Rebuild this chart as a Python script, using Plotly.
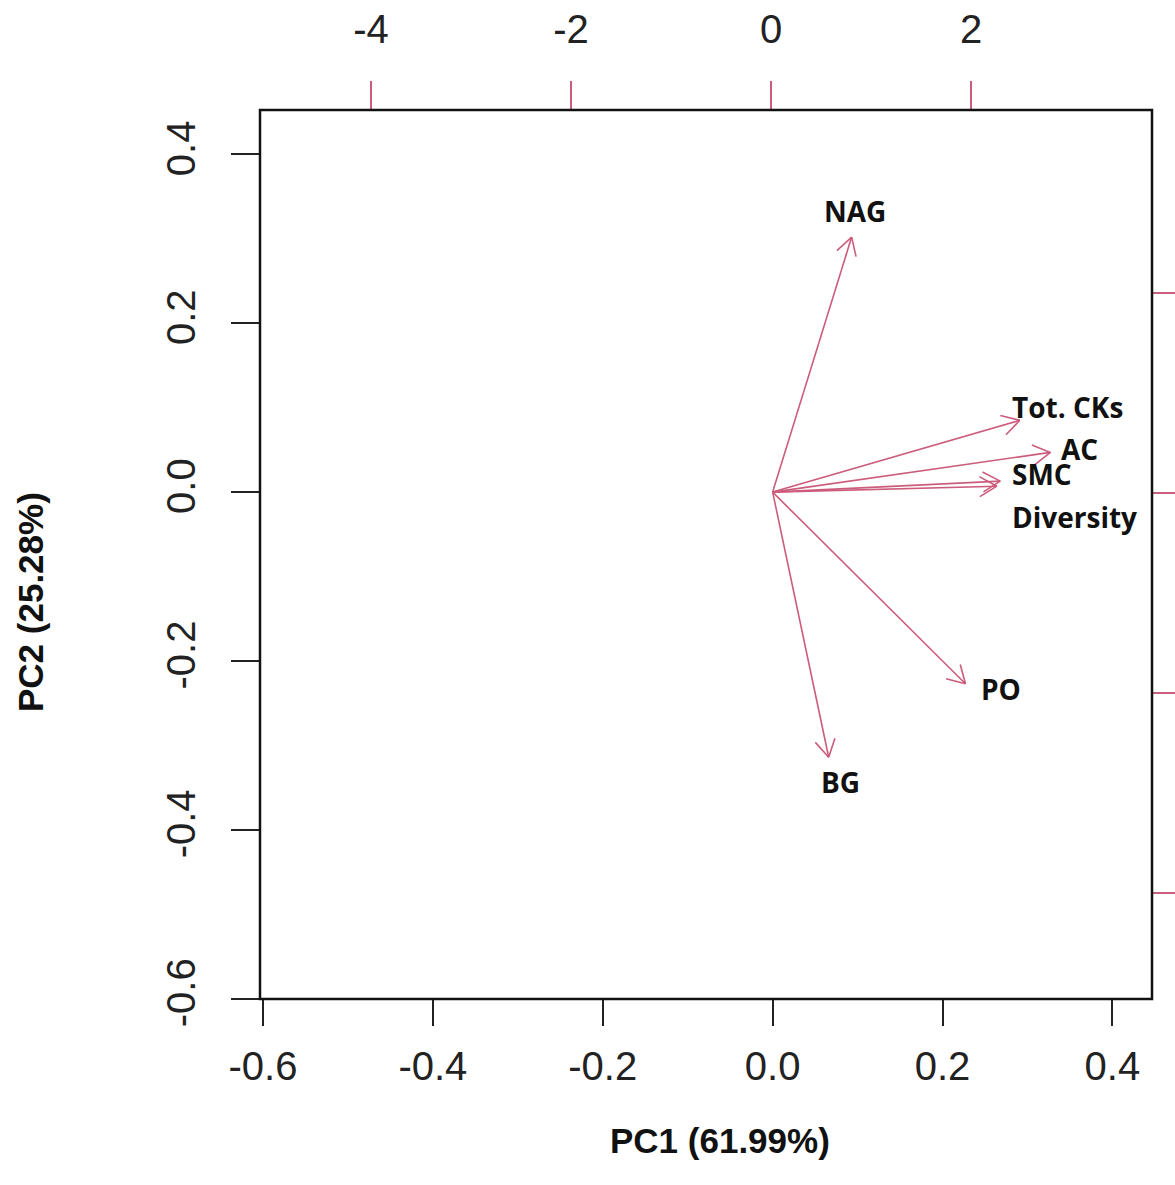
import math
import plotly.graph_objects as go

# ---- data (PCA loadings) ----
variables = ["NAG", "Tot. CKs", "AC", "SMC", "Diversity", "PO", "BG"]
pc1 = [0.093, 0.291, 0.327, 0.268, 0.264, 0.227, 0.066]
pc2 = [0.302, 0.085, 0.047, 0.013, 0.007, -0.227, -0.314]

# label placement (data units) and anchors
label_x = [0.097, 0.280, 0.337, 0.280, 0.280, 0.243, 0.080]
label_y = [0.333, 0.101, 0.051, 0.022, -0.030, -0.233, -0.343]
label_anchor = ["center", "left", "left", "left", "left", "left", "center"]

x_ticks = [-0.6, -0.4, -0.2, 0.0, 0.2, 0.4]
y_ticks = [-0.6, -0.4, -0.2, 0.0, 0.2, 0.4]
score_ticks = [-4, -2, 0, 2]

x_title = "PC1 (61.99%)"
y_title = "PC2 (25.28%)"

# ---- layout geometry ----
W, H = 1175, 1185
ML, MR, MT, MB = 260, 23, 110, 186
PW, PH = W - ML - MR, H - MT - MB
xr = [-0.6035, 0.4466]
yr = [-0.6003, 0.4525]
x2r = [-5.11, 3.81]
y2r = [-5.06, 3.83]

ARROW = "#CC5C7C"
TICKFONT = dict(family="Liberation Sans Narrow, Arial Narrow, Liberation Sans", size=40, color="#222")

sx = PW / (xr[1] - xr[0])
sy = PH / (yr[1] - yr[0])

fig = go.Figure()

head_len = 20.0
ang = math.radians(30)
for name, vx, vy in zip(variables, pc1, pc2):
    xs = [0, vx]
    ys = [0, vy]
    dx, dy = vx * sx, vy * sy
    L = math.hypot(dx, dy)
    ux, uy = dx / L, dy / L
    hx, hy = [], []
    for s in (1, -1):
        c, sn = math.cos(s * ang), math.sin(s * ang)
        bx = -(ux * c - uy * sn) * head_len
        by = -(ux * sn + uy * c) * head_len
        hx += [vx + bx / sx, vx, None]
        hy += [vy + by / sy, vy, None]
    fig.add_trace(go.Scatter(x=xs + [None] + hx, y=ys + [None] + hy, mode="lines",
                             line=dict(color=ARROW, width=1.6), hoverinfo="skip",
                             showlegend=False))

# invisible trace for secondary axes
fig.add_trace(go.Scatter(x=[0], y=[0], xaxis="x2", yaxis="y2", mode="markers",
                         marker=dict(opacity=0), showlegend=False, hoverinfo="skip"))

for name, lx, ly, anc in zip(variables, label_x, label_y, label_anchor):
    fig.add_annotation(x=lx, y=ly, text="<b>" + name + "</b>", showarrow=False,
                       xanchor=anc, yanchor="middle",
                       font=dict(family="Open Sans", size=28, color="#111"))

fig.add_annotation(xref="paper", yref="paper", x=(720 - ML) / PW, y=(H - MB - 1140) / PH,
                   text="<b>" + x_title + "</b>", showarrow=False, xanchor="center", yanchor="middle",
                   font=dict(family="Liberation Sans Narrow, Arial Narrow, Liberation Sans", size=35, color="#111"))
fig.add_annotation(xref="paper", yref="paper", x=(30 - ML) / PW, y=(H - MB - 602) / PH,
                   text="<b>" + y_title + "</b>", showarrow=False, xanchor="center", yanchor="middle",
                   textangle=-90,
                   font=dict(family="Liberation Sans Narrow, Arial Narrow, Liberation Sans", size=35, color="#111"))

fig.add_shape(type="rect", xref="paper", yref="paper", x0=0, x1=1, y0=0, y1=1,
              line=dict(color="#111", width=2.5))

fig.update_layout(
    width=W, height=H, margin=dict(l=ML, r=MR, t=MT, b=MB, pad=0, autoexpand=False),
    paper_bgcolor="white", plot_bgcolor="white", showlegend=False,
    xaxis=dict(range=xr, tickvals=x_ticks, ticktext=[f"{v:.1f}" for v in x_ticks],
               ticks="outside", ticklen=26, tickwidth=2, tickcolor="#222",
               showgrid=False, zeroline=False, showline=False, automargin=False,
               tickfont=TICKFONT, ticklabelstandoff=6),
    yaxis=dict(range=yr, tickvals=y_ticks, ticktext=[f"{v:.1f}" for v in y_ticks],
               ticks="outside", ticklen=28, tickwidth=2, tickcolor="#222",
               showgrid=False, zeroline=False, showline=False, tickangle=-90, automargin=False,
               tickfont=TICKFONT, ticklabelstandoff=20),
    xaxis2=dict(range=x2r, overlaying="x", side="top", anchor="y",
                tickvals=score_ticks, ticktext=[str(v) for v in score_ticks],
                ticks="outside", ticklen=28, tickwidth=1.5, tickcolor=ARROW,
                showgrid=False, zeroline=False, showline=False, automargin=False,
                tickfont=TICKFONT, ticklabelstandoff=22),
    yaxis2=dict(range=y2r, overlaying="y", side="right", anchor="x",
                tickvals=score_ticks, ticks="outside", ticklen=28, tickwidth=1.5,
                tickcolor=ARROW, showticklabels=False, automargin=False,
                showgrid=False, zeroline=False, showline=False),
)

fig.write_html("out.html")
